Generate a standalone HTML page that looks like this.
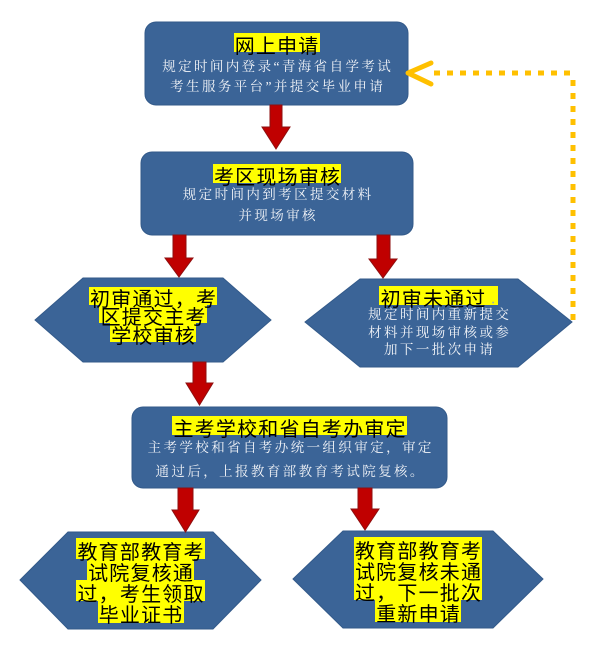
<!DOCTYPE html>
<html><head><meta charset="utf-8"><style>
html,body{margin:0;padding:0;background:#fff;}
body{width:615px;height:655px;position:relative;overflow:hidden;font-family:"Liberation Sans","Noto Sans CJK SC",sans-serif;}
svg{position:absolute;left:0;top:0;}
.ln{position:absolute;text-align:center;white-space:nowrap;font-size:20px;}
.hl{display:inline-block;vertical-align:top;height:100%;background:#ffff00;color:#000;font-size:20px;letter-spacing:1.2px;padding-left:1.2px;font-family:"Noto Sans CJK SC",sans-serif;}
.hl i{font-style:normal;position:relative;top:1.5px;z-index:2;}
.sb{position:absolute;text-align:center;white-space:nowrap;color:#f2f4f8;font-size:13.5px;letter-spacing:2.4px;padding-left:2.4px;box-sizing:border-box;line-height:20px;height:20px;font-family:"Liberation Serif","Noto Serif CJK SC",serif;}
.dot{color:#9aa;font-size:9px;letter-spacing:0;}
</style></head><body>
<svg width="615" height="655" viewBox="0 0 615 655">
  <g fill="#3b6497" stroke="#335a8a" stroke-width="1">
    <rect x="145" y="22" width="263" height="83" rx="11" ry="11"/>
    <rect x="141" y="152" width="272" height="83" rx="11" ry="11"/>
    <polygon points="35,320 83,278 223,278 271,320 223,362 83,362"/>
    <polygon points="305,322 360,279 518,279 572,322 518,367 360,367"/>
    <rect x="132" y="407" width="315" height="81" rx="11" ry="11"/>
    <polygon points="20,580 68,532 213,532 261,580 213,629 68,629"/>
    <polygon points="293,579 343,531 493,531 543,579 493,628 343,628"/>
  </g>
  <g fill="#c00000" stroke="#8e0f0f" stroke-width="1">
    <polygon points="270,105 282,105 282,127 290,127 276,149 262,127 270,127"/>
    <polygon points="173,235 186,235 186,258 193,258 179,277 165,258 173,258"/>
    <polygon points="377,235 390,235 390,259 397,259 383,278 369,259 377,259"/>
    <polygon points="193,362 206,362 206,383 213,383 199.5,405 186,383 193,383"/>
    <polygon points="178,488 193,488 193,510 199,510 185.5,532 172,510 178,510"/>
    <polygon points="358,488 372,488 372,509 379,509 365,530 351,509 358,509"/>
  </g>
  <g stroke="#ffc000" fill="none">
    <line x1="573" y1="320" x2="573" y2="73" stroke-width="5" stroke-dasharray="6 7"/>
    <line x1="570" y1="73" x2="432" y2="73" stroke-width="5" stroke-dasharray="6 7"/>
    <polyline points="431,63 408,73 431,84" stroke-width="5" stroke-linecap="round" stroke-linejoin="round"/>
  </g>
</svg>

<!-- Box 1 -->
<div class="ln" style="left:145px;width:263px;top:33px;height:19px;line-height:19px;"><span class="hl"><i>网上申请</i></span></div>
<div class="sb" style="left:145px;width:263px;top:57px;">规定时间内登录“青海省自学考试</div>
<div class="sb" style="left:145px;width:263px;top:77px;">考生服务平台”并提交毕业申请</div>

<!-- Box 2 -->
<div class="ln" style="left:141px;width:272px;top:164px;height:19px;line-height:19px;"><span class="hl"><i>考区现场审核</i></span></div>
<div class="sb" style="left:141px;width:272px;top:185px;">规定时间内到考区提交材料</div>
<div class="sb" style="left:141px;width:272px;top:206px;">并现场审核</div>

<!-- Left hex -->
<div class="ln" style="left:35px;width:236px;top:287px;height:18px;line-height:18px;"><span class="hl"><i>初审通过，考</i></span></div>
<div class="ln" style="left:35px;width:236px;top:305px;height:18px;line-height:18px;"><span class="hl"><i>区提交主考</i></span></div>
<div class="ln" style="left:35px;width:236px;top:323px;height:19px;line-height:19px;"><span class="hl"><i>学校审核</i></span></div>

<!-- Right hex -->
<div class="ln" style="left:305px;width:267px;top:286px;height:19px;line-height:19px;"><span class="hl"><i>初审未通过<span class="dot"> ·</span></i></span></div>
<div class="sb" style="left:305px;width:267px;top:305px;">规定时间内重新提交</div>
<div class="sb" style="left:305px;width:267px;top:323px;">材料并现场审核或参</div>
<div class="sb" style="left:305px;width:267px;top:340px;">加下一批次申请</div>

<!-- Box 3 -->
<div class="ln" style="left:132px;width:315px;top:416px;height:19px;line-height:19px;"><span class="hl"><i>主考学校和省自考办审定</i></span></div>
<div class="sb" style="left:132px;width:315px;top:438px;">主考学校和省自考办统一组织审定，审定</div>
<div class="sb" style="left:132px;width:315px;top:462px;">通过后，上报教育部教育考试院复核。</div>

<!-- Bottom left hex -->
<div class="ln" style="left:20px;width:241px;top:538px;height:21px;line-height:21px;"><span class="hl"><i>教育部教育考</i></span></div>
<div class="ln" style="left:20px;width:241px;top:559px;height:21px;line-height:21px;"><span class="hl"><i>试院复核通</i></span></div>
<div class="ln" style="left:20px;width:241px;top:580px;height:21px;line-height:21px;"><span class="hl"><i>过，考生领取</i></span></div>
<div class="ln" style="left:20px;width:241px;top:601px;height:22px;line-height:22px;"><span class="hl"><i>毕业证书</i></span></div>

<!-- Bottom right hex -->
<div class="ln" style="left:293px;width:250px;top:537px;height:21px;line-height:21px;"><span class="hl"><i>教育部教育考</i></span></div>
<div class="ln" style="left:293px;width:250px;top:558px;height:21px;line-height:21px;"><span class="hl"><i>试院复核未通</i></span></div>
<div class="ln" style="left:293px;width:250px;top:579px;height:21px;line-height:21px;"><span class="hl"><i>过，下一批次</i></span></div>
<div class="ln" style="left:293px;width:250px;top:600px;height:22px;line-height:22px;"><span class="hl"><i>重新申请</i></span></div>
</body></html>
